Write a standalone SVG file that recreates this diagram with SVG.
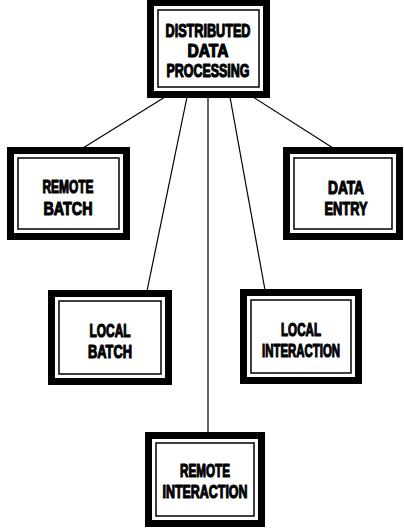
<svg xmlns="http://www.w3.org/2000/svg" width="404" height="529" viewBox="0 0 404 529">
<style>
.outer{fill:#fff;stroke:#000;stroke-width:7}
.inner{fill:#fff;stroke:#000;stroke-width:1.5}
.lbl{font-family:"Liberation Sans","DejaVu Sans",Arial,sans-serif;font-weight:bold;font-size:19px;fill:#000;stroke:#000;stroke-width:1.2;stroke-linejoin:round;text-anchor:middle}
.conn{stroke:#000;stroke-width:1.2;fill:none}
</style>
<rect width="404" height="529" fill="#fff"/>
<g id="connectors">
<line class="conn" x1="165" y1="97" x2="83" y2="148"/>
<line class="conn" x1="187" y1="97" x2="147" y2="291"/>
<line class="conn" x1="208" y1="97" x2="208" y2="433"/>
<line class="conn" x1="230" y1="97" x2="265" y2="290"/>
<line class="conn" x1="253" y1="97" x2="333" y2="148"/>
</g>
<g id="ddp">
<rect class="outer" x="150.5" y="2.5" width="116" height="92"/>
<rect class="inner" x="158" y="10" width="101" height="77"/>
<text class="lbl" x="208" y="37" textLength="85" lengthAdjust="spacingAndGlyphs">DISTRIBUTED</text>
<text class="lbl" x="208" y="57" textLength="41" lengthAdjust="spacingAndGlyphs">DATA</text>
<text class="lbl" x="208" y="77" textLength="83" lengthAdjust="spacingAndGlyphs">PROCESSING</text>
</g>
<g id="remote-batch">
<rect class="outer" x="10.5" y="150.5" width="116" height="86"/>
<rect class="inner" x="18" y="158" width="101" height="71"/>
<text class="lbl" x="68" y="193" textLength="51" lengthAdjust="spacingAndGlyphs">REMOTE</text>
<text class="lbl" x="68" y="215" textLength="49" lengthAdjust="spacingAndGlyphs">BATCH</text>
</g>
<g id="data-entry">
<rect class="outer" x="286.5" y="150.5" width="113" height="86"/>
<rect class="inner" x="294" y="158" width="98" height="71"/>
<text class="lbl" x="346" y="194" textLength="36" lengthAdjust="spacingAndGlyphs">DATA</text>
<text class="lbl" x="346" y="215" textLength="43" lengthAdjust="spacingAndGlyphs">ENTRY</text>
</g>
<g id="local-batch">
<rect class="outer" x="51.5" y="293.5" width="117" height="88"/>
<rect class="inner" x="59" y="301" width="102" height="73"/>
<text class="lbl" x="110" y="337" textLength="41" lengthAdjust="spacingAndGlyphs">LOCAL</text>
<text class="lbl" x="110" y="358" textLength="44" lengthAdjust="spacingAndGlyphs">BATCH</text>
</g>
<g id="local-interaction">
<rect class="outer" x="243.5" y="292.5" width="115" height="88"/>
<rect class="inner" x="251" y="300" width="100" height="73"/>
<text class="lbl" x="301" y="336" textLength="40" lengthAdjust="spacingAndGlyphs">LOCAL</text>
<text class="lbl" x="301" y="357" textLength="78" lengthAdjust="spacingAndGlyphs">INTERACTION</text>
</g>
<g id="remote-interaction">
<rect class="outer" x="148.5" y="435.5" width="113" height="88"/>
<rect class="inner" x="156" y="443" width="98" height="73"/>
<text class="lbl" x="205" y="477" textLength="50" lengthAdjust="spacingAndGlyphs">REMOTE</text>
<text class="lbl" x="205" y="498" textLength="85" lengthAdjust="spacingAndGlyphs">INTERACTION</text>
</g>
</svg>
